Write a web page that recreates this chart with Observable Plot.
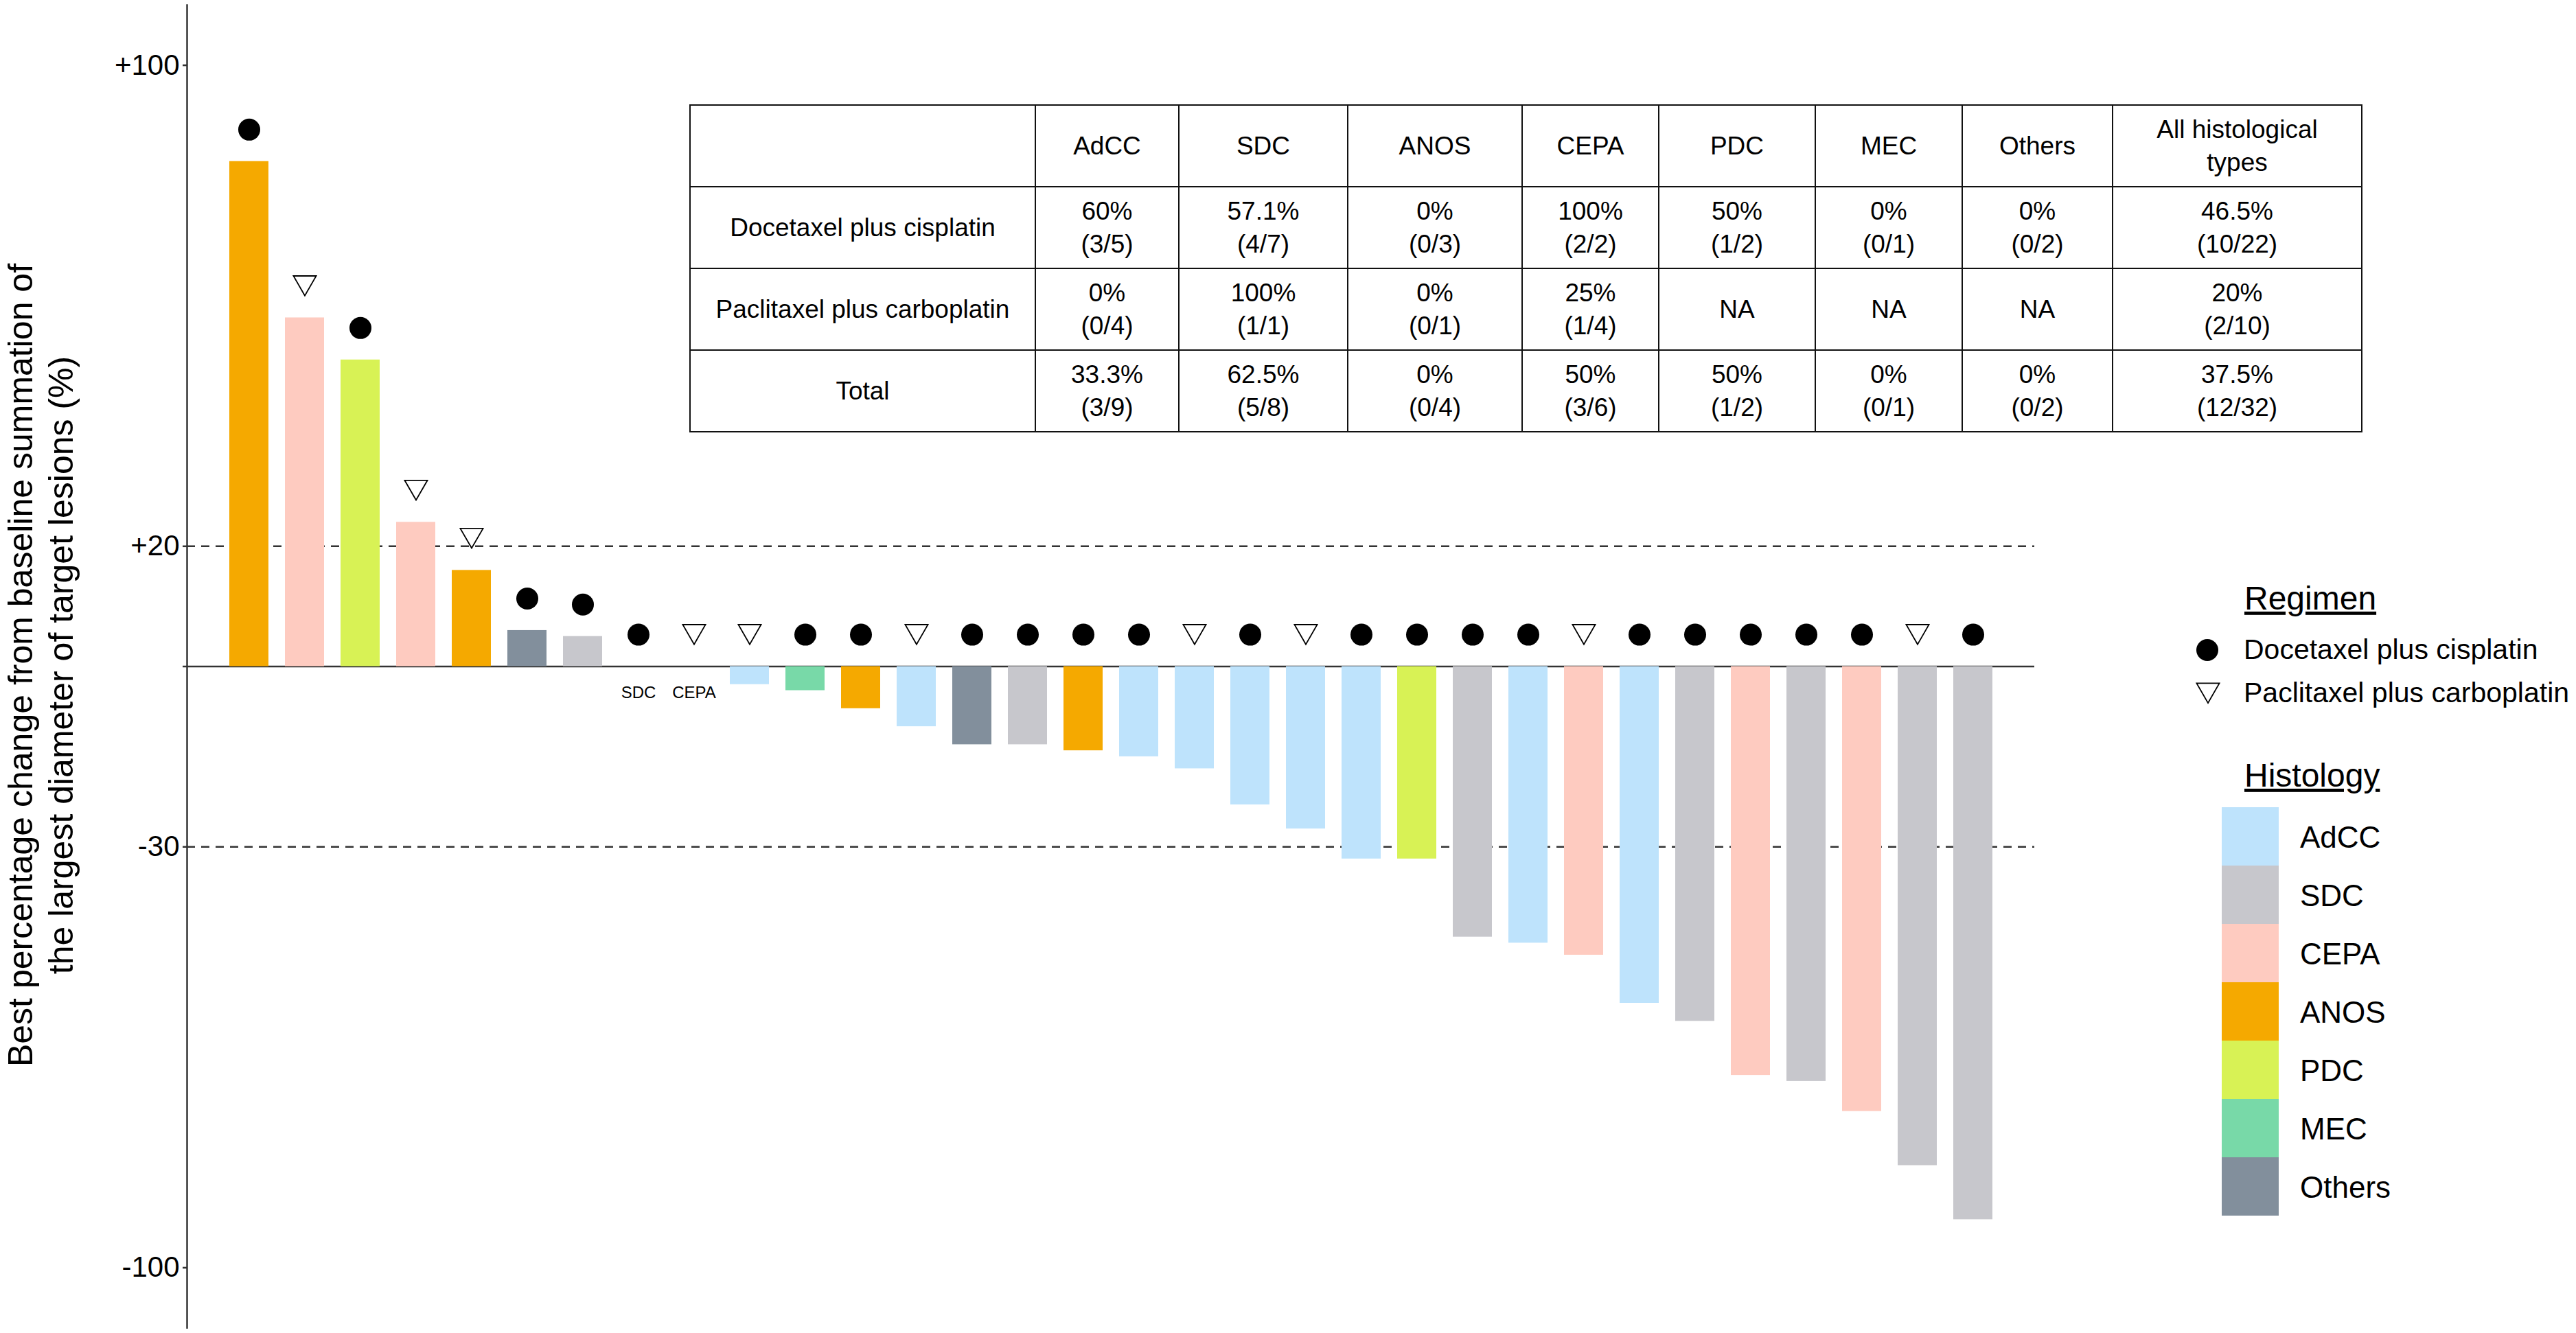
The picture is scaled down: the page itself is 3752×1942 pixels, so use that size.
<!DOCTYPE html>
<html>
<head>
<meta charset="utf-8">
<script src="https://cdn.jsdelivr.net/npm/d3@7"></script>
<script src="https://cdn.jsdelivr.net/npm/@observablehq/plot@0.6"></script>
<style>
  html, body { margin: 0; padding: 0; background: #fff; }
  #wrap { position: relative; width: 3752px; height: 1942px; font-family: "Liberation Sans", Arial, sans-serif; }
  #wrap > svg.plotmain { position: absolute; left: 0; top: 0; }
  #tbl { position: absolute; left: 1004px; top: 152px; border-collapse: collapse; table-layout: fixed;
         font-size: 37px; line-height: 48px; color: #000; font-family: "Liberation Sans", Arial, sans-serif; }
  #tbl td { border: 2px solid #111; text-align: center; vertical-align: middle; padding: 0; white-space: pre-line; }
  #tbl tr { height: 119px; }
</style>
</head>
<body>
<div id="wrap"></div>
<script>
// ---------------- data ----------------
const histology = ["ANOS","CEPA","PDC","CEPA","ANOS","Others","SDC","SDC","CEPA","AdCC",
                   "MEC","ANOS","AdCC","Others","SDC","ANOS","AdCC","AdCC","AdCC","AdCC",
                   "AdCC","PDC","SDC","AdCC","CEPA","AdCC","SDC","CEPA","SDC","CEPA","SDC","SDC"];
const regimenCode = ["D","P","D","P","P","D","D","D","P","P",
                     "D","D","P","D","D","D","D","P","D","P",
                     "D","D","D","D","P","D","D","D","D","D","P","D"];
const change = [84, 58, 51, 24, 16, 6, 5, 0, 0, -3,
                -4, -7, -10, -13, -13, -14, -15, -17, -23, -27,
                -32, -32, -45, -46, -48, -56, -59, -68, -69, -74, -83, -92];

const histTypes  = ["AdCC","SDC","CEPA","ANOS","PDC","MEC","Others"];
const histColors = ["#bee3fc","#c7c7cc","#fecbc0","#f5a900","#d8f255","#78d9a8","#828f9c"];
const regimenNames = {D: "Docetaxel plus cisplatin", P: "Paclitaxel plus carboplatin"};
const regimenOrder = ["D","P"];

const yTicks = [100, 20, 0, -30, -100];
const yTickLabels = ["+100", "+20", "", "-30", "-100"];
const refLines = [20, -30];
const yLabelLines = ["Best percentage change from baseline summation of",
                     "the largest diameter of target lesions (%)"];

const tableHeader = ["", "AdCC", "SDC", "ANOS", "CEPA", "PDC", "MEC", "Others", "All histological\ntypes"];
const tableRowLabels = ["Docetaxel plus cisplatin", "Paclitaxel plus carboplatin", "Total"];
const tableValues = [
  ["60%\n(3/5)", "57.1%\n(4/7)", "0%\n(0/3)", "100%\n(2/2)", "50%\n(1/2)", "0%\n(0/1)", "0%\n(0/2)", "46.5%\n(10/22)"],
  ["0%\n(0/4)", "100%\n(1/1)", "0%\n(0/1)", "25%\n(1/4)", "NA", "NA", "NA", "20%\n(2/10)"],
  ["33.3%\n(3/9)", "62.5%\n(5/8)", "0%\n(0/4)", "50%\n(3/6)", "50%\n(1/2)", "0%\n(0/1)", "0%\n(0/2)", "37.5%\n(12/32)"]
];

// ---------------- chart ----------------
const patients = change.map((v, i) => ({idx: i, change: v, histology: histology[i], regimen: regimenCode[i]}));
const markerOffset = 5.3;
const markerY = d => Math.max(d.change, 0) + markerOffset;

const FONT = "Liberation Sans, Arial, sans-serif";

const plot = Plot.plot({
  width: 3752,
  height: 1942,
  marginLeft: 272,
  marginRight: 789,
  marginTop: 7,
  marginBottom: 8,
  style: {fontFamily: FONT, background: "transparent", color: "#000"},
  x: {type: "band", domain: d3.range(patients.length), paddingInner: 0.3, paddingOuter: 0.59, axis: null},
  y: {domain: [-110, 110], axis: null},
  color: {domain: histTypes, range: histColors},
  marks: [
    Plot.ruleY(refLines, {stroke: "#333", strokeWidth: 2.5, strokeDasharray: "12,9"}),
    Plot.ruleY([0], {stroke: "#333", strokeWidth: 2.5}),
    Plot.barY(patients, {x: "idx", y1: 0, y2: "change", fill: "histology"}),
    Plot.dot(patients.filter(d => d.regimen === "D"),
             {x: "idx", y: markerY, r: 16, symbol: "circle", fill: "black", stroke: "none"}),
    Plot.dot(patients.filter(d => d.regimen === "P"),
             {x: "idx", y: markerY, r: 12.3, symbol: "triangle", rotate: 180, dy: -5,
              fill: "white", stroke: "black", strokeWidth: 1.8}),
    Plot.text(patients.filter(d => d.change === 0),
              {x: "idx", y: 0, text: "histology", lineAnchor: "top", dy: 29, fontSize: 24, fill: "black"}),
    Plot.axisY({ticks: yTicks, tickFormat: d => yTickLabels[yTicks.indexOf(d)], tickSize: 6, tickPadding: 5,
                fontSize: 42, fill: "black", stroke: "#333", strokeWidth: 2.5, label: null}),
    Plot.frame({anchor: "left", stroke: "#333", strokeWidth: 2.5})
  ]
});
plot.classList.add("plotmain");
const wrap = document.getElementById("wrap");
wrap.appendChild(plot);

// ---------------- table ----------------
const colWidths = [503, 209, 246, 254, 199, 228, 214, 219, 363];
const tbl = d3.select(wrap).append("table").attr("id", "tbl").style("width", d3.sum(colWidths) + "px");
tbl.append("colgroup").selectAll("col").data(colWidths).join("col").style("width", d => d + "px");
const rowsData = [tableHeader].concat(tableRowLabels.map((lab, i) => [lab].concat(tableValues[i])));
tbl.selectAll("tr").data(rowsData).join("tr")
   .selectAll("td").data(d => d).join("td").text(d => d);

// ---------------- overlay: y label + legends ----------------
const ov = d3.select(wrap).append("svg")
  .attr("width", 3752).attr("height", 1942)
  .style("position", "absolute").style("left", "0px").style("top", "0px")
  .attr("font-family", FONT).attr("fill", "#000");

ov.append("text").attr("transform", "translate(47,969) rotate(-90)")
  .attr("text-anchor", "middle").attr("font-size", 50).text(yLabelLines[0]);
ov.append("text").attr("transform", "translate(106,969) rotate(-90)")
  .attr("text-anchor", "middle").attr("font-size", 50).text(yLabelLines[1]);

// Regimen legend
ov.append("text").attr("x", 3269).attr("y", 888).attr("font-size", 48)
  .style("text-decoration", "underline").text("Regimen");
regimenOrder.forEach((code, i) => {
  const cy = 947 + i * 63;
  if (code === "D") {
    ov.append("circle").attr("cx", 3215).attr("cy", cy).attr("r", 16).attr("fill", "black");
  } else {
    ov.append("path").attr("d", d3.symbol(d3.symbolTriangle, Math.PI * 12.3 * 12.3)())
      .attr("transform", `translate(3216,${cy - 5}) rotate(180)`)
      .attr("fill", "white").attr("stroke", "black").attr("stroke-width", 1.8);
  }
  ov.append("text").attr("x", 3268).attr("y", cy + 13).attr("font-size", 41).text(regimenNames[code]);
});

// Histology legend
ov.append("text").attr("x", 3269).attr("y", 1146).attr("font-size", 48)
  .style("text-decoration", "underline").text("Histology");
histTypes.forEach((h, i) => {
  const top = 1176 + i * 85;
  ov.append("rect").attr("x", 3236).attr("y", top).attr("width", 83).attr("height", 85)
    .attr("fill", histColors[i]);
  ov.append("text").attr("x", 3350).attr("y", top + 42.5 + 16).attr("font-size", 44).text(h);
});
</script>
</body>
</html>
